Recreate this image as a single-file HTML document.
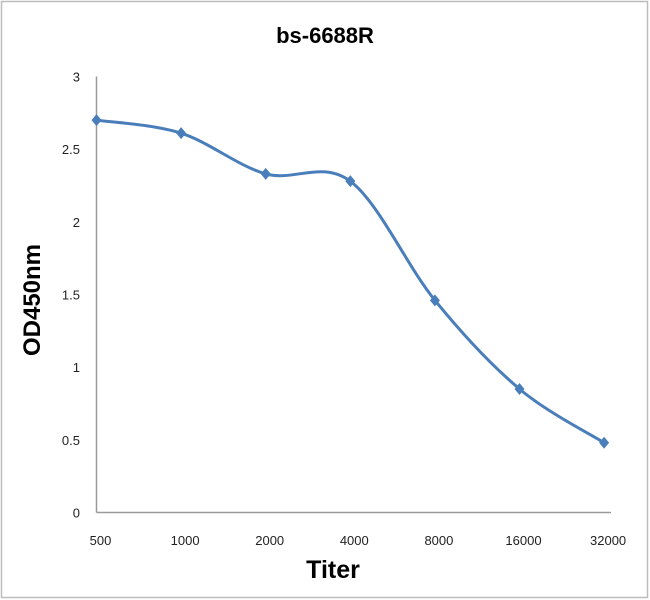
<!DOCTYPE html>
<html><head><meta charset="utf-8"><style>
html,body{margin:0;padding:0;background:#fff;}
svg{display:block;font-family:"Liberation Sans",sans-serif;}
</style></head><body>
<svg id="chart" width="650" height="600" viewBox="0 0 650 600">
<rect x="1.5" y="1.5" width="646" height="596" fill="#fff" stroke="#bdbdbd" stroke-width="1.5"/>
<text x="325" y="43" text-anchor="middle" font-size="22" font-weight="bold">bs-6688R</text>
<text transform="translate(40,300) rotate(-90)" text-anchor="middle" font-size="24" font-weight="bold">OD450nm</text>
<text x="333" y="578" text-anchor="middle" font-size="25" font-weight="bold">Titer</text>
<g id="axes"></g>
<g id="series"></g>
</svg>
<script>
const categories = ["500","1000","2000","4000","8000","16000","32000"];
const values = [2.7, 2.61, 2.33, 2.28, 1.46, 0.85, 0.48];
const yTicks = [0, 0.5, 1, 1.5, 2, 2.5, 3];
const yTickLabels = ["0","0.5","1","1.5","2","2.5","3"];
const NS = "http://www.w3.org/2000/svg";
const x0 = 96.5, xStep = 84.6, yBase = 512.5, yTop = 76.5, yMax = 3;
function xs(i){ return x0 + i*xStep; }
function ys(v){ return yBase - (v/yMax)*(yBase-yTop); }
function mk(tag, attrs, parent){ const e=document.createElementNS(NS,tag); for(const k in attrs) e.setAttribute(k,attrs[k]); parent.appendChild(e); return e; }
const axes = document.getElementById('axes');
const ya = mk('line',{x1:x0,y1:yTop,x2:x0,y2:yBase,stroke:'#9a9a9a','stroke-width':1.5},axes);


const xa = mk('line',{x1:x0,y1:yBase,x2:611,y2:yBase,stroke:'#9a9a9a','stroke-width':1.5},axes);


yTicks.forEach((t,i)=>{
  const tx = mk('text',{x:80,y:ys(t)+5,'text-anchor':'end','font-size':13,fill:'#222'},axes);
  tx.textContent = yTickLabels[i];
  
  
});
categories.forEach((c,i)=>{
  const tx = mk('text',{x:xs(i)+4,y:545,'text-anchor':'middle','font-size':13,fill:'#222'},axes);
  tx.textContent = c;
  
  
});
const series = document.getElementById('series');
const pts = values.map((v,i)=>[xs(i),ys(v)]);
let d = `M${pts[0][0]},${pts[0][1]}`;
for(let i=0;i<pts.length-1;i++){
  const p0=pts[Math.max(0,i-1)], p1=pts[i], p2=pts[i+1], p3=pts[Math.min(pts.length-1,i+2)];
  const t=6;
  d += ` C${p1[0]+(p2[0]-p0[0])/t},${p1[1]+(p2[1]-p0[1])/t} ${p2[0]-(p3[0]-p1[0])/t},${p2[1]-(p3[1]-p1[1])/t} ${p2[0]},${p2[1]}`;
}
const line = mk('path',{d:d,fill:'none',stroke:'#4a7ebb','stroke-width':3},series);


pts.forEach((p,i)=>{
  const m = mk('polygon',{points:`${p[0]},${p[1]-6} ${p[0]+5},${p[1]} ${p[0]},${p[1]+6} ${p[0]-5},${p[1]}`,fill:'#4a7ebb'},series);
  
  
});
</script>
</body></html>
